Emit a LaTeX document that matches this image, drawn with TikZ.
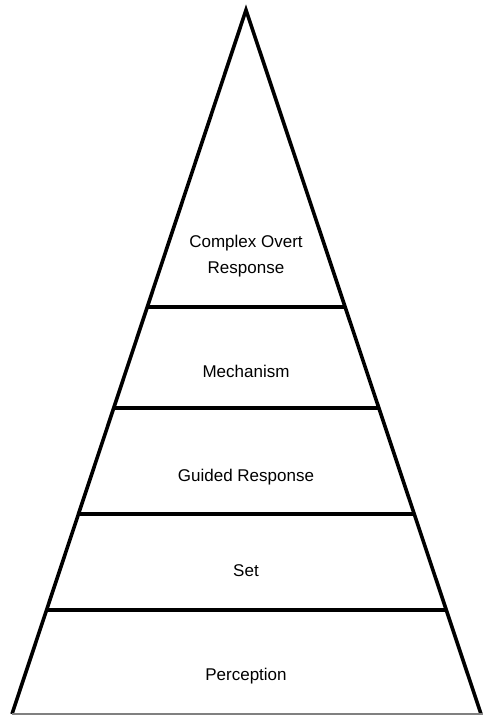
\documentclass[tikz,border=0pt]{standalone}
\usepackage{fontspec}
\setmainfont{Liberation Sans}
\usetikzlibrary{calc}

\begin{document}
\begin{tikzpicture}[x=1pt,y=-1pt,
    edge/.style={line width=3.6pt},
    level/.style={font=\fontsize{17}{26}\selectfont, align=center}]

    \useasboundingbox (0,0) rectangle (483,716);

    % outline
    \coordinate (apex) at (246,10);
    \coordinate (bl) at (12,714);
    \coordinate (br) at (481,714);
    \draw[edge] (bl) -- (apex) -- (br);
    \draw[gray, line width=1.2pt] (bl) -- ($(br)+(2,0)$);

    % layers
    \foreach \t/\n in {0.4219/a, 0.5653/b, 0.7159/c, 0.8523/d}{
        \coordinate (l\n) at ($(apex)!\t!(bl)$);
        \coordinate (r\n) at ($(apex)!\t!(br)$);
        \draw[edge] (l\n) -- (r\n);
    }

    \node[level] (cor) at (246,256) {Complex Overt\\Response};
    \node[level] (mech) at (246,371) {Mechanism};
    \node[level] (guid) at (246,477) {Guided Response};
    \node[level] (set) at (246,571) {Set};
    \node[level] (perc) at (246,676) {Perception};
\end{tikzpicture}
\end{document}
